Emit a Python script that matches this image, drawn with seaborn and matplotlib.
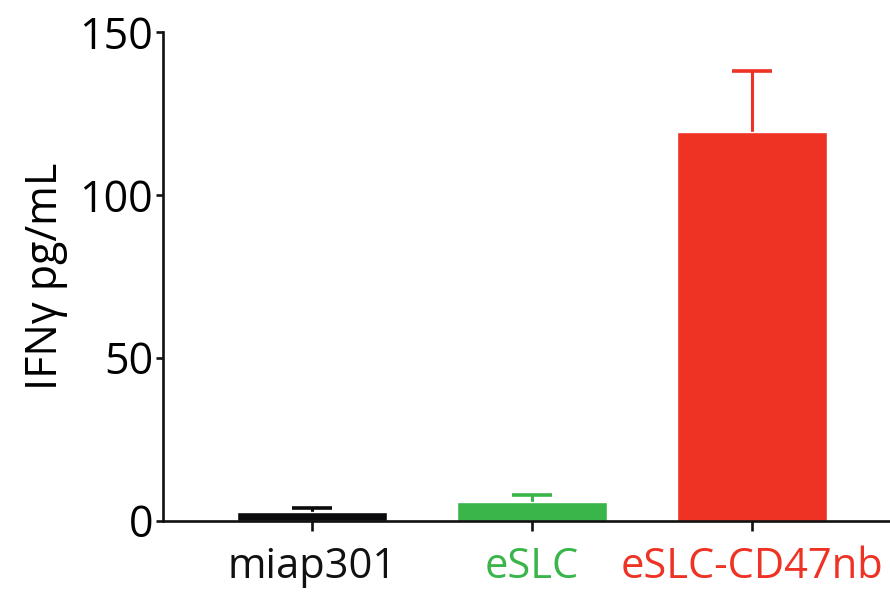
import matplotlib
matplotlib.use('Agg')
import matplotlib.pyplot as plt
import seaborn as sns
import pandas as pd

groups = ['miap301', 'eSLC', 'eSLC-CD47nb']
ifng_mean = [2.5, 5.6, 119.4]
ifng_err = [1.5, 2.2, 18.7]
bar_colors = ['#0a0a0c', '#39b54a', '#ee3224']
y_ticks = [0, 50, 100, 150]

sns.set_style('ticks')
plt.rcParams['font.family'] = ['Open Sans', 'DejaVu Sans']

df = pd.DataFrame({'group': groups, 'ifng': ifng_mean})

fig = plt.figure(figsize=(8.9, 5.99), dpi=100)
ax = fig.add_axes([0.183, 0.131, 0.817, 0.8155])

sns.barplot(data=df, x='group', y='ifng', hue='group', palette=bar_colors,
            width=0.68, saturation=1, legend=False, ax=ax, zorder=2)

# error bars sit behind the bars so only the upper half shows
for i, (m, e, c) in enumerate(zip(ifng_mean, ifng_err, bar_colors)):
    ax.errorbar(i, m, yerr=e, fmt='none', ecolor=c,
                elinewidth=2.2, capsize=14.4, capthick=2.6, zorder=1)

ax.set_xlim(-0.677, 2.627)
ax.set_ylim(0, 150)
ax.set_yticks(y_ticks)
ax.set_xlabel('')
ax.set_ylabel('IFN\u03b3 pg/mL', fontsize=31, labelpad=8, color='black')

sns.despine(ax=ax, top=True, right=True)
for side in ['left', 'bottom']:
    ax.spines[side].set_linewidth(1.9)
    ax.spines[side].set_color('#111111')
    ax.spines[side].set_zorder(3)
ax.tick_params(axis='both', width=1.9, color='#111111', labelcolor='black')
ax.tick_params(axis='y', length=5, pad=2, labelsize=31)
ax.tick_params(axis='x', length=7, pad=11, labelsize=30)

for lbl, c in zip(ax.get_xticklabels(), ['#111111', '#39b54a', '#ee3224']):
    lbl.set_color(c)

fig.savefig('out.png', dpi=100)
